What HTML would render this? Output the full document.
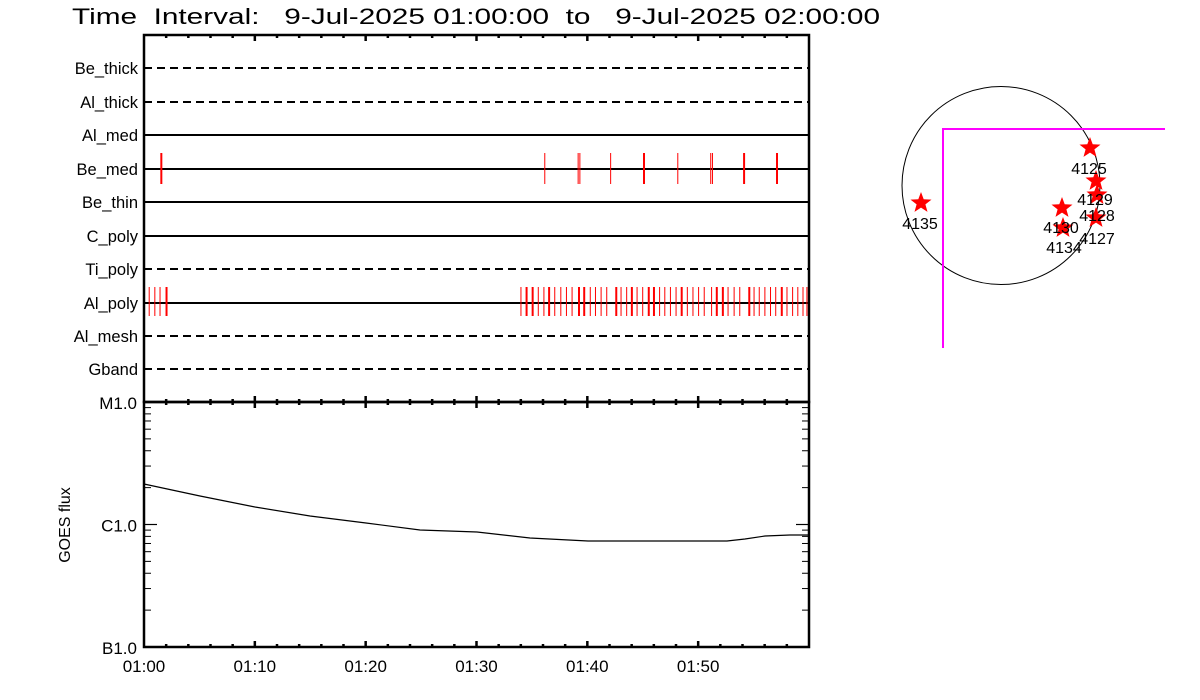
<!DOCTYPE html>
<html><head><meta charset="utf-8"><style>
html,body{margin:0;padding:0;background:#fff;}
svg{display:block;}
text{font-family:"Liberation Sans",sans-serif;fill:#000;}
.pre{white-space:pre;}
</style></head><body>
<svg id="s" width="1200" height="700" xmlns="http://www.w3.org/2000/svg">
<rect width="1200" height="700" fill="#fff"/>
<text class="pre" xml:space="preserve" x="72" y="24" font-size="22" textLength="808" lengthAdjust="spacingAndGlyphs">Time  Interval:   9-Jul-2025 01:00:00  to   9-Jul-2025 02:00:00</text>
<g id="g"></g>
<text font-size="16" text-anchor="middle" transform="translate(70,525) rotate(-90)">GOES flux</text>
</svg>
<script>
const g=document.getElementById('g');const NS='http://www.w3.org/2000/svg';
function el(t,a,txt){const e=document.createElementNS(NS,t);for(const k in a)e.setAttribute(k,a[k]);if(txt!==undefined)e.textContent=txt;g.appendChild(e);return e;}
const L=144,R=809,T=35,M=402,B=647;
const X=m=>L+(R-L)*m/60;
el('rect',{x:L,y:T,width:R-L,height:M-T,fill:'none',stroke:'#000','stroke-width':2.5});
for(let m=2;m<60;m+=2){const x=X(m);const big=m%10==0;el('line',{x1:x,y1:T,x2:x,y2:T+(big?6:3),stroke:'#000','stroke-width':2.5});}
const rows=[['Be_thick',68,1],['Al_thick',102,1],['Al_med',135,0],['Be_med',169,0],['Be_thin',202,0],['C_poly',236,0],['Ti_poly',269,1],['Al_poly',303,0],['Al_mesh',336,1],['Gband',369,1]];
rows.forEach(r=>{el('line',{x1:L,y1:r[1],x2:R,y2:r[1],stroke:'#000','stroke-width':2,'stroke-dasharray':r[2]?'8,5':'none'});
el('text',{x:138,y:r[1]+6,'font-size':16.5,'text-anchor':'end'},r[0]);});
const cv=X0=>144+(X0-10)/2.308;
[[50,1],[935,0],[1012,0],[1016,0],[1087,0],[1164,1],[1242,0],[1318,0],[1322,0],[1395,1],[1471,1]].forEach(p=>{const x=cv(p[0]);el('line',{x1:x,y1:153,x2:x,y2:184,stroke:'red','stroke-width':p[1]?2:1});});
[[22,0],[35,0],[47,0],[62,1],[880,0],[893,1],[907,1],[920,0],[933,0],[945,1],[958,0],[972,0],[985,0],[998,0],[1014,1],[1026,1],[1040,0],[1052,0],[1065,0],[1078,0],[1100,1],[1111,0],[1124,0],[1136,1],[1148,0],[1161,0],[1175,1],[1187,1],[1200,0],[1212,0],[1225,0],[1238,0],[1251,1],[1264,0],[1277,0],[1290,0],[1303,0],[1320,0],[1332,1],[1346,1],[1358,0],[1372,0],[1385,0],[1407,1],[1418,0],[1430,0],[1443,0],[1456,0],[1468,0],[1482,1],[1494,0],[1507,0],[1519,0],[1531,0],[1540,0]].forEach(p=>{const x=cv(p[0]);el('line',{x1:x,y1:287,x2:x,y2:316,stroke:'red','stroke-width':p[1]?2:1});});
el('rect',{x:L,y:M,width:R-L,height:B-M,fill:'none',stroke:'#000','stroke-width':2.5});
for(let m=2;m<60;m+=2){const x=X(m);const big=m%10==0;const h=big?6:3;
el('line',{x1:x,y1:M-h,x2:x,y2:M+h,stroke:'#000','stroke-width':2.5});
el('line',{x1:x,y1:B,x2:x,y2:B-(big?6:3),stroke:'#000','stroke-width':2.5});}
['01:00','01:10','01:20','01:30','01:40','01:50'].forEach((t,i)=>el('text',{x:X(i*10),y:672,'font-size':17,'text-anchor':'middle'},t));
const dec=(B-M)/2;
for(let d=0;d<2;d++){const base=B-d*dec;for(let k=2;k<=9;k++){const y=base-dec*Math.log10(k);
el('line',{x1:L,y1:y,x2:L+7,y2:y,stroke:'#000','stroke-width':1});el('line',{x1:R,y1:y,x2:R-7,y2:y,stroke:'#000','stroke-width':1});}}
[[M,'M1.0'],[M+dec,'C1.0'],[B,'B1.0']].forEach(p=>{el('line',{x1:L,y1:p[0],x2:L+13,y2:p[0],stroke:'#000','stroke-width':1.2});el('line',{x1:R,y1:p[0],x2:R-13,y2:p[0],stroke:'#000','stroke-width':1.2});
el('text',{x:137,y:p[0]+7,'font-size':17,'text-anchor':'end'},p[1]);});
el('polyline',{points:'144,484 200,496 255,507 310,516 366,523 420,530 477,532 530,538 588,541 727,541 745,539 765,536 790,535 809,535',fill:'none',stroke:'#000','stroke-width':1.2});
el('circle',{cx:1001,cy:185.5,r:99,fill:'none',stroke:'#000','stroke-width':1});
el('polyline',{points:'943,348 943,129 1165,129',fill:'none',stroke:'#ff00ff','stroke-width':2});
function star(cx,cy,r){let p=[];for(let i=0;i<10;i++){const a=-Math.PI/2+i*Math.PI/5;const rr=i%2?r*0.42:r;p.push((cx+rr*Math.cos(a)).toFixed(1)+','+(cy+rr*Math.sin(a)).toFixed(1));}el('polygon',{points:p.join(' '),fill:'red'});}
[[1090,148],[921,203],[1096,181],[1097,195],[1062,208],[1096,218],[1063,228]].forEach(s=>star(s[0],s[1],11));
[[1089,174,'4125'],[920,229,'4135'],[1095,205,'4129'],[1097,221,'4128'],[1061,233,'4130'],[1097,244,'4127'],[1064,253,'4134']].forEach(t=>el('text',{x:t[0],y:t[1],'font-size':16,'text-anchor':'middle'},t[2]));
</script>
</body></html>
